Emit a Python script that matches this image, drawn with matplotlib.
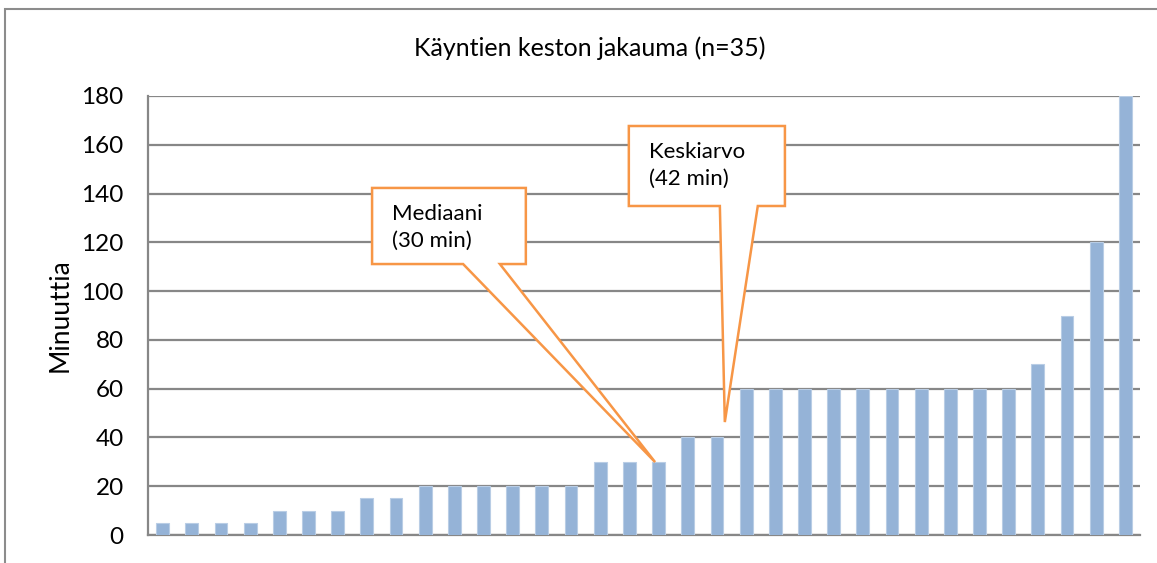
import matplotlib
matplotlib.use("Agg")
import matplotlib.pyplot as plt
import matplotlib.patches as mpatches

# visit durations in minutes, sorted
durations = [5, 5, 5, 5, 10, 10, 10, 15, 15, 20, 20, 20, 20, 20, 20,
             30, 30, 30, 40, 40, 60, 60, 60, 60, 60, 60, 60, 60, 60, 60,
             70, 90, 120, 180]
y_ticks = [0, 20, 40, 60, 80, 100, 120, 140, 160, 180]
title = "Käyntien keston jakauma (n=35)"
y_label = "Minuuttia"

plt.rcParams['font.family'] = ['Lato', 'DejaVu Sans']

fig = plt.figure(figsize=(11.57, 5.63), dpi=100)
ax = fig.add_axes([148 / 1157, 28 / 563, 992 / 1157, 439 / 563])

grey = "#878787"
x = list(range(len(durations)))
ax.bar(x, durations, width=0.44, color="#95B3D7", edgecolor="#B9CDE5",
       linewidth=0.8, zorder=3)

ax.set_xlim(-0.5, len(durations) - 0.5)
ax.set_ylim(0, 180)
ax.set_yticks(y_ticks)
ax.set_xticks([])
ax.tick_params(axis="y", length=0, labelsize=17.5, pad=17.5)
ax.yaxis.grid(True, color=grey, linewidth=1.6, zorder=0)
for side in ["top", "right"]:
    ax.spines[side].set_visible(False)
for side in ["left", "bottom"]:
    ax.spines[side].set_color(grey)
    ax.spines[side].set_linewidth(1.6)
ax.set_ylabel(y_label, fontsize=19, labelpad=6)

fig.text(590 / 1157, 1 - 48 / 563, title, ha="center", va="center", fontsize=18)

# outer chart border
fig.patches.append(mpatches.Rectangle((5 / 1157, -0.2), 1.2, 1.2 - 10 / 563 + 0.002,
                                      transform=fig.transFigure, fill=False,
                                      edgecolor="#8c8c8c", linewidth=1.5))

orange = "#F79646"


def callout(box, base, tip, text):
    x0, x1, y0, y1 = box
    b0, b1 = base
    pts = [(x0, y1), (x1, y1), (x1, y0), (b1, y0), tip, (b0, y0), (x0, y0)]
    poly = mpatches.Polygon(pts, closed=True, facecolor="white", edgecolor=orange,
                            linewidth=1.8, zorder=5, clip_on=False)
    ax.add_patch(poly)
    ax.text(x0 + 0.68, y1 - 6.5, text, ha="left", va="top", fontsize=16,
            linespacing=1.45, zorder=6)


callout((7.18, 12.45, 111.1, 142.3), (10.30, 11.56), (16.88, 29.9),
        "Mediaani\n(30 min)")
callout((15.98, 21.33, 134.9, 167.7), (19.10, 20.40), (19.27, 46.3),
        "Keskiarvo\n(42 min)")

fig.savefig("out.png", dpi=100)
